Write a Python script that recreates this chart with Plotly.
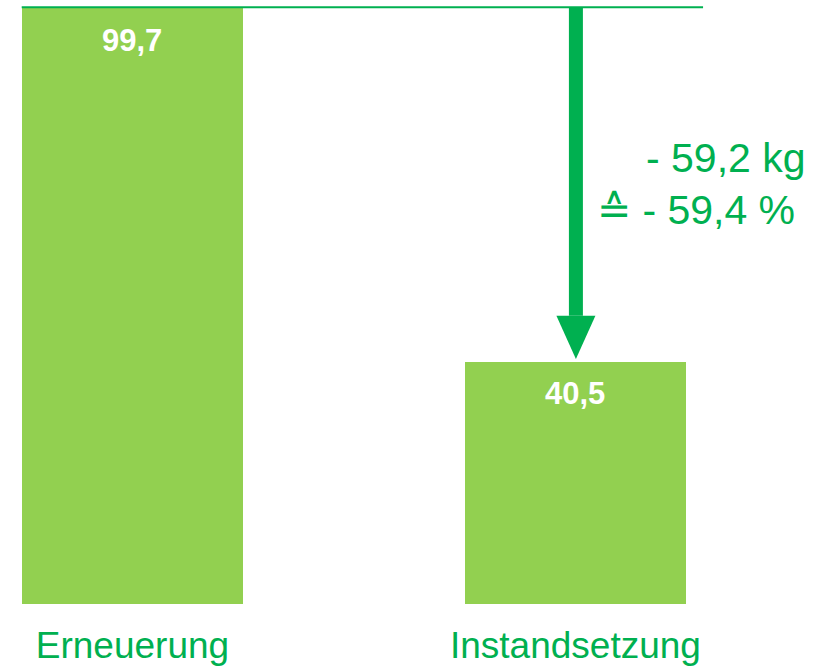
import plotly.graph_objects as go

# Daten
kategorien = ['Erneuerung', 'Instandsetzung']
werte = [99.7, 40.5]
einheit = 'kg'

BALKEN_FARBE = '#92D050'
AKZENT_FARBE = '#00B050'
SCHRIFT = 'Arial, Liberation Sans, sans-serif'


def de_zahl(wert: float) -> str:
    """Zahl mit deutschem Dezimalkomma."""
    return f'{wert:.1f}'.replace('.', ',')


x_pos = list(range(len(kategorien)))
differenz = werte[0] - werte[1]
prozent = differenz / werte[0] * 100

fig = go.Figure()

fig.add_trace(go.Bar(
    x=x_pos,
    y=werte,
    width=0.5,
    marker_color=BALKEN_FARBE,
    marker_line_width=0,
    hoverinfo='skip',
    showlegend=False,
))

# Werte in den Balken
for xi, wert in zip(x_pos, werte):
    fig.add_annotation(
        x=xi, y=wert, xref='x', yref='y',
        text=f'<b>{de_zahl(wert)}</b>',
        showarrow=False, yanchor='middle', yshift=-32,
        font=dict(family=SCHRIFT, size=31, color='white'),
    )

# Referenzlinie auf Höhe des ersten Balkens
fig.add_shape(
    type='line', xref='x', yref='y',
    x0=x_pos[0] - 0.25, x1=x_pos[1] + 0.288,
    y0=werte[0] + 0.12, y1=werte[0] + 0.12,
    line=dict(color=AKZENT_FARBE, width=2),
)

# Pfeil von oben auf den zweiten Balken
spitze = werte[1] + 0.5
kopf_basis = spitze + 7.2
fig.add_shape(
    type='line', xref='x', yref='y',
    x0=x_pos[1] + 0.001, x1=x_pos[1] + 0.001,
    y0=werte[0], y1=kopf_basis,
    line=dict(color=AKZENT_FARBE, width=14),
)
fig.add_trace(go.Scatter(
    x=[x_pos[1] - 0.043, x_pos[1] + 0.045, x_pos[1] + 0.001, x_pos[1] - 0.043],
    y=[kopf_basis, kopf_basis, spitze, kopf_basis],
    mode='lines', fill='toself',
    fillcolor=AKZENT_FARBE, line=dict(color=AKZENT_FARBE, width=0),
    hoverinfo='skip', showlegend=False,
))

# Differenz-Beschriftung
fig.add_annotation(
    x=808 / 838, y=1 - 158 / 604, xref='paper', yref='paper',
    text=f'- {de_zahl(differenz)} {einheit}',
    showarrow=False, xanchor='right', yanchor='middle',
    font=dict(family=SCHRIFT, size=41, color=AKZENT_FARBE),
)
fig.add_annotation(
    x=797 / 838, y=1 - 210 / 604, xref='paper', yref='paper',
    text=f'≙ - {de_zahl(prozent)} %',
    showarrow=False, xanchor='right', yanchor='middle',
    font=dict(family=SCHRIFT, size=41, color=AKZENT_FARBE),
)

fig.update_layout(
    width=838, height=668,
    margin=dict(l=0, r=0, t=0, b=64),
    plot_bgcolor='white', paper_bgcolor='white',
    bargap=0,
)
fig.update_xaxes(
    range=[-0.299, 1.5926],
    tickvals=x_pos, ticktext=kategorien,
    tickfont=dict(family=SCHRIFT, size=37, color=AKZENT_FARBE),
    ticks='', ticklabelstandoff=16,
    showgrid=False, zeroline=False, showline=False,
    automargin=False, fixedrange=True,
)
fig.update_yaxes(
    range=[0, 101.04],
    visible=False, showgrid=False, zeroline=False,
    automargin=False, fixedrange=True,
)

# Seitenrand des Browsers entfernen, damit die Grafik bei 0,0 beginnt
fig.write_html(
    'out.html',
    config={'displayModeBar': False},
    post_script="document.body.style.margin='0';",
)
